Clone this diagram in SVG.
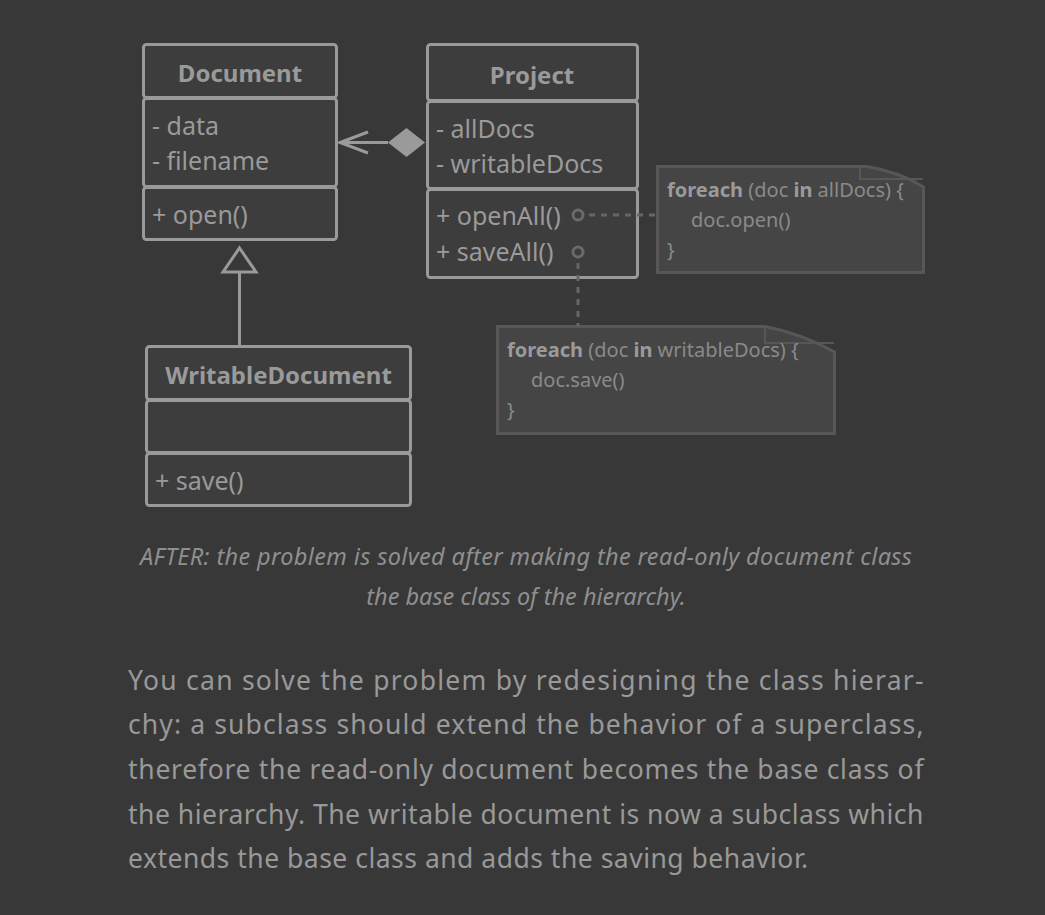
<svg xmlns="http://www.w3.org/2000/svg" width="1045" height="915" viewBox="0 0 1045 915">
<style>
.bg{fill:#383838}
.box{fill:#3d3d3d;stroke:#9a9a9a;stroke-width:3}
.t{font-family:"Noto Sans","Open Sans",sans-serif;fill:#9a9a9a;font-size:25px}
.h{font-weight:bold;text-anchor:middle;font-size:24px}
.note{fill:#454545;stroke:#575757;stroke-width:3}
.fold{fill:none;stroke:#575757;stroke-width:2}
.n{font-family:"Noto Sans","Open Sans",sans-serif;fill:#8a8a8a;font-size:20px}
.nb{font-weight:bold;fill:#9a9a9a}
.line{stroke:#9a9a9a;stroke-width:3;fill:none}
.dash{stroke:#666;stroke-width:3;stroke-dasharray:6 6;fill:none}
.dot{fill:#3d3d3d;stroke:#6a6a6a;stroke-width:3}
.cap{font-family:"Noto Sans","Open Sans",sans-serif;fill:#8f8f8f;font-size:23.5px;font-style:italic;text-anchor:middle}
.p{font-family:"Noto Sans","Open Sans",sans-serif;fill:#999;font-size:26.5px;letter-spacing:0.5px}
</style>
<rect class="bg" x="0" y="0" width="1045" height="915"/>

<g id="document">
  <rect class="box" x="143.5" y="44.5" width="193" height="53" rx="3"/>
  <rect class="box" x="143.5" y="98.5" width="193" height="88" rx="3"/>
  <rect class="box" x="143.5" y="187.5" width="193" height="52" rx="3"/>
  <text class="t h" x="240" y="82">Document</text>
  <text class="t" x="152" y="135">- data</text>
  <text class="t" x="152" y="170">- filename</text>
  <text class="t" x="152" y="224">+ open()</text>
</g>

<g id="project">
  <rect class="box" x="427.5" y="44.5" width="210" height="56" rx="3"/>
  <rect class="box" x="427.5" y="101.5" width="210" height="87" rx="3"/>
  <rect class="box" x="427.5" y="189.5" width="210" height="88" rx="3"/>
  <text class="t h" x="532" y="84">Project</text>
  <text class="t" x="436" y="138">- allDocs</text>
  <text class="t" x="436" y="173">- writableDocs</text>
  <text class="t" x="436" y="225">+ openAll()</text>
  <text class="t" x="436" y="261">+ saveAll()</text>
</g>

<g id="writabledocument">
  <rect class="box" x="146.5" y="346.5" width="264" height="53" rx="3"/>
  <rect class="box" x="146.5" y="400.5" width="264" height="52" rx="3"/>
  <rect class="box" x="146.5" y="453.5" width="264" height="52" rx="3"/>
  <text class="t h" x="278.5" y="384">WritableDocument</text>
  <text class="t" x="155" y="490">+ save()</text>
</g>

<g id="note-openall">
  <path class="note" d="M657.5,166.5 H867 Q900,172 923.5,187 V272.5 H657.5 Z"/>
  <path class="fold" d="M860,167 V179 H923"/>
  <text class="n" x="667" y="197"><tspan class="nb">foreach</tspan> (doc <tspan class="nb">in</tspan> allDocs) {</text>
  <text class="n" x="691" y="227">doc.open()</text>
  <text class="n" x="667" y="257">}</text>
</g>

<g id="note-saveall">
  <path class="note" d="M497.5,326.5 H765 Q800,333 834.5,352 V433.5 H497.5 Z"/>
  <path class="fold" d="M765,327 V343 H834"/>
  <text class="n" x="507" y="357"><tspan class="nb">foreach</tspan> (doc <tspan class="nb">in</tspan> writableDocs) {</text>
  <text class="n" x="531" y="387">doc.save()</text>
  <text class="n" x="507" y="417">}</text>
</g>

<g id="connectors">
  <line class="line" x1="388" y1="142.5" x2="340" y2="142.5"/>
  <polyline class="line" points="368,132 340,142.5 368,153"/>
  <polygon points="388,142.5 406.5,128 425,142.5 406.5,157" fill="#9a9a9a"/>
  <line class="line" x1="239.5" y1="273" x2="239.5" y2="346"/>
  <polygon points="239.5,248 256,272 223,272" fill="#383838" stroke="#9a9a9a" stroke-width="3" stroke-linejoin="miter"/>
  <line class="dash" x1="589" y1="215" x2="657" y2="215"/>
  <line class="dash" x1="578" y1="263" x2="578" y2="326"/>
  <circle class="dot" cx="578" cy="215" r="5"/>
  <circle class="dot" cx="578" cy="252" r="5"/>
</g>

<g id="caption">
  <text class="cap" x="526" y="565" textLength="772" lengthAdjust="spacing">AFTER: the problem is solved after making the read-only document class</text>
  <text class="cap" x="526" y="605">the base class of the hierarchy.</text>
</g>

<g id="paragraph">
  <text class="p" x="128" y="690" textLength="796" lengthAdjust="spacing">You can solve the problem by redesigning the class hierar-</text>
  <text class="p" x="128" y="734" textLength="796" lengthAdjust="spacing">chy: a subclass should extend the behavior of a superclass,</text>
  <text class="p" x="128" y="779" textLength="796" lengthAdjust="spacing">therefore the read-only document becomes the base class of</text>
  <text class="p" x="128" y="824" textLength="796" lengthAdjust="spacing">the hierarchy. The writable document is now a subclass which</text>
  <text class="p" x="128" y="868">extends the base class and adds the saving behavior.</text>
</g>
</svg>
